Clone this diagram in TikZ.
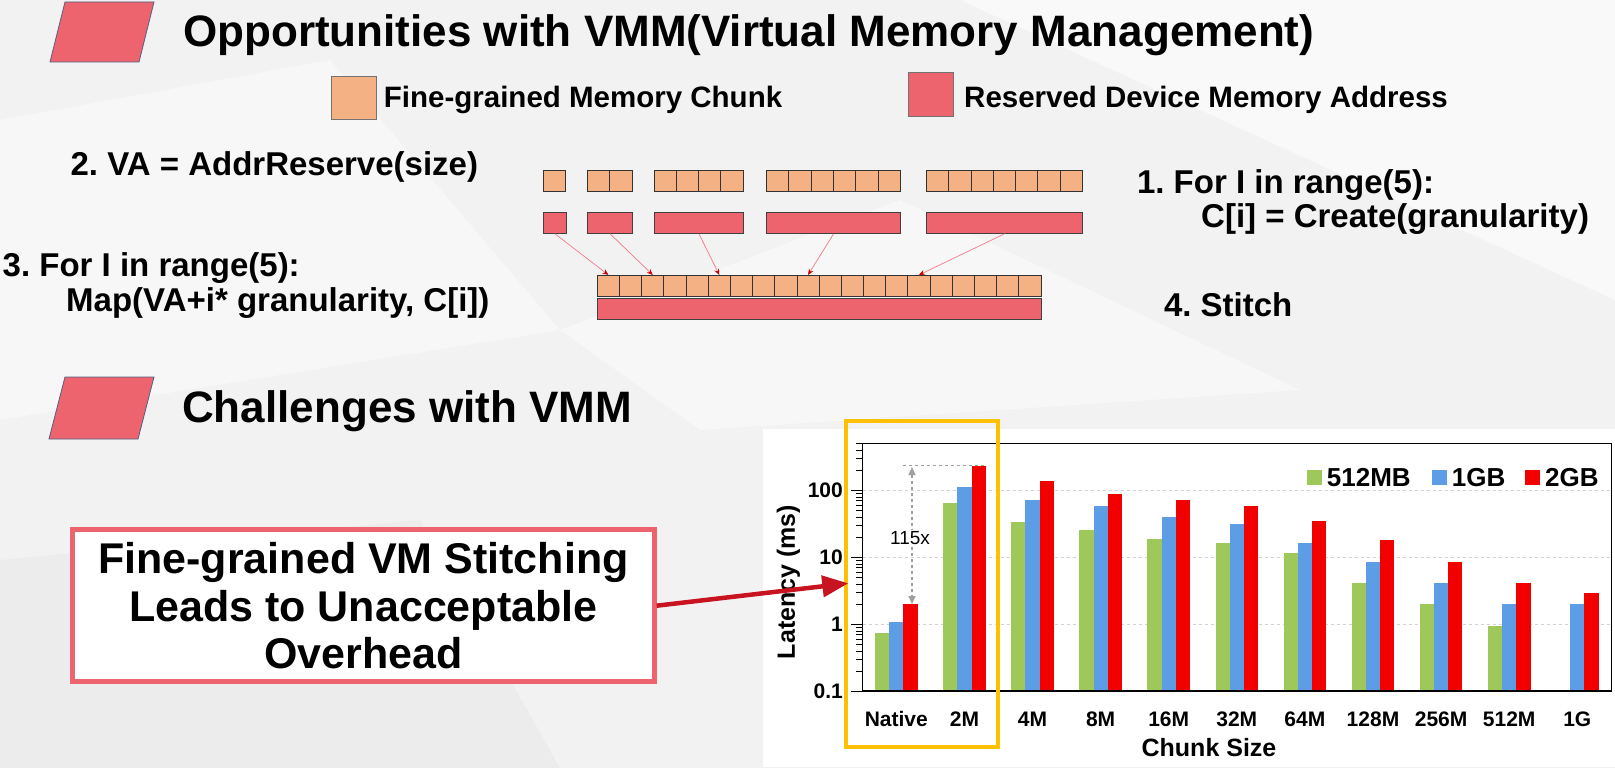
\documentclass[tikz,border=0pt]{standalone}
\usepackage{fontspec}
\setmainfont{Liberation Sans}
\usetikzlibrary{arrows.meta}
\frenchspacing

\definecolor{memred}{RGB}{238,100,110}
\definecolor{chunkorange}{RGB}{244,177,131}
\definecolor{bulletedge}{RGB}{80,95,130}
\definecolor{pointred}{RGB}{200,20,32}
\definecolor{bargreen}{RGB}{158,201,90}
\definecolor{barblue}{RGB}{92,157,230}
\definecolor{barred}{RGB}{242,0,0}
\definecolor{hilite}{RGB}{255,192,0}
\definecolor{slide}{RGB}{242,242,243}

\tikzset{
  bullet/.style={fill=memred, draw=bulletedge, line width=0.8pt},
  heading/.style={anchor=base west, inner sep=0pt, font=\fontsize{44}{48}\selectfont\bfseries},
  keytext/.style={anchor=base west, inner sep=0pt, font=\fontsize{29.5}{32}\selectfont\bfseries},
  steptext/.style={anchor=base west, inner sep=0pt, font=\fontsize{33}{34.5}\selectfont\bfseries},
  chunk/.style={draw=black!80, fill=chunkorange, line width=0.8pt, inner sep=0pt, minimum height=21pt},
  reserved/.style={draw=black!75, fill=memred, line width=0.8pt, inner sep=0pt, minimum height=21pt},
  link/.style={draw=memred!85, line width=0.7pt, -{Stealth[length=6pt,width=5pt,color=red!80!black]}},
  gridline/.style={draw=gray!35, dashed, line width=0.7pt},
  axisnum/.style={inner sep=0pt, font=\fontsize{21}{21}\selectfont\bfseries},
  axistitle/.style={inner sep=0pt, font=\fontsize{25}{25}\selectfont\bfseries},
  legendtext/.style={anchor=west, inner sep=0pt, font=\fontsize{26}{26}\selectfont\bfseries},
  gapline/.style={draw=gray!75, dashed, line width=1.1pt},
  callout/.style={draw=memred, fill=white, line width=4.5pt, minimum width=582pt, minimum height=152pt,
    align=center, font=\fontsize{43}{47.5}\selectfont\bfseries},
  pointer/.style={draw=pointred, line width=4.5pt, -{Triangle[length=26pt,width=21pt]}}
}

\begin{document}
\begin{tikzpicture}[x=1pt, y=-1pt]
  \useasboundingbox (0,0) rectangle (1615,768);

  % slide background
  \fill[slide] (0,0) rectangle (1615,768);
  \fill[white, opacity=0.55] (960,0) -- (1615,0) -- (1615,300) -- cycle;
  \fill[white, opacity=0.45] (0,120) -- (330,60) -- (560,330) -- (0,420) -- cycle;
  \fill[white, opacity=0.4] (560,330) -- (900,200) -- (1300,390) -- (700,430) -- cycle;
  \fill[black, opacity=0.025] (0,560) -- (420,520) -- (560,768) -- (0,768) -- cycle;

  % headings
  \draw[bullet] (65,2) -- (154,2) -- (139,62) -- (50,62) -- cycle;
  \node[heading] (title) at (183,46.5) {Opportunities with VMM(Virtual Memory Management)};
  \draw[bullet] (65,377) -- (154,377) -- (138,439) -- (49,439) -- cycle;
  \node[heading] (challenge) at (182,422.7) {Challenges with VMM};

  % legend
  \node[chunk, draw=black!55, minimum width=45.5pt, minimum height=43.3pt] (keyA) at (353.7,97.7) {};
  \node[keytext] (keyAtext) at (383.7,107.3) {Fine-grained Memory Chunk};
  \node[reserved, draw=black!55, minimum width=45.8pt, minimum height=44pt] (keyB) at (930.9,94.7) {};
  \node[keytext] (keyBtext) at (964,107.3) {Reserved Device Memory Address};

  % steps
  \node[steptext] (step1) at (1136.8,193.3) {1. For I in range(5):};
  \node[steptext] (step1b) at (1201,227.7) {C[i] = Create(granularity)};
  \node[steptext] (step2) at (70.4,175) {2. VA = AddrReserve(size)};
  \node[steptext] (step3) at (2.5,276.7) {3. For I in range(5):};
  \node[steptext] (step3b) at (66,311) {Map(VA+i* granularity, C[i])};
  \node[steptext] (step4) at (1163.8,316.7) {4. Stitch};

  % memory chunks and reserved ranges
  \def\cellw{22.3}
  \foreach \n/\x [count=\k] in {1/543.3, 2/587.3, 4/653.9, 6/766.4, 7/926.3}{
    \foreach \c in {1,...,\n}
      \node[chunk, minimum width=\cellw pt] (c\k-\c) at ({\x+(\c-0.5)*\cellw},181.2) {};
    \pgfmathsetmacro\w{\n*\cellw}
    \node[reserved, minimum width=\w pt, anchor=west] (r\k) at (\x,222.8) {};
  }

  % stitched range
  \foreach \i in {0,...,19}
    \node[chunk, minimum width=22.18pt, minimum height=20.7pt] (s\i) at ({597.3+(\i+0.5)*22.18},285.7) {};
  \node[reserved, minimum width=443.6pt, minimum height=20.7pt, anchor=west] (stitched) at (597.3,308.7) {};
  \foreach \k/\s in {1/0, 2/2, 3/5, 4/9, 5/14}
    \draw[link] (r\k.south) -- (s\s.north);

  % latency chart
  \fill[white] (763,429) rectangle (1615,767);
  \foreach \v in {1,10,100}
    \draw[gridline] (862.7,{624.5-67*log10(\v)}) -- (1611.7,{624.5-67*log10(\v)});
  \foreach \lab/\g/\b/\r [count=\i from 0] in {Native/0.75/1.1/2, 2M/66/111/230, 4M/34/72/140,
      8M/26/58/90, 16M/19/40/72, 32M/16.6/32/58, 64M/11.6/16.6/35, 128M/4.1/8.6/18,
      256M/2/4.1/8.6, 512M/0.95/2/4.1, 1G/0.1/2/3}{
    \pgfmathsetmacro\bx{875+68.1*\i}
    \fill[bargreen] (\bx,691) rectangle ({\bx+14.2},{624.5-67*log10(\g)});
    \fill[barblue] ({\bx+14.2},691) rectangle ({\bx+28.4},{624.5-67*log10(\b)});
    \fill[barred] ({\bx+28.4},691) rectangle ({\bx+42.6},{624.5-67*log10(\r)});
    \node[axisnum] (x\i) at ({\bx+21.3},719.3) {\lab};
  }
  \draw[line width=1.2pt] (862.7,443.3) rectangle (1611.7,691);
  \foreach \d in {-1,0,1,2}
    \foreach \m in {1,...,9}{
      \pgfmathsetmacro\ty{624.5-67*(\d+log10(\m))}
      \ifdim\ty pt>443pt \draw[line width=0.8pt] ({\m==1 ? 851 : 856},\ty) -- (862.7,\ty); \fi
    }
  \foreach \v [count=\j] in {0.1,1,10,100}
    \node[axisnum, anchor=east] (yt\j) at (843,{624.5-67*log10(\v)}) {\v};
  \node[axistitle, rotate=90] (ylabel) at (788.3,582) {Latency (ms)};
  \node[axistitle] (xlabel) at (1209,748) {Chunk Size};

  % chart legend
  \node[fill=bargreen, minimum size=15pt, inner sep=0pt] (kg) at (1314.2,477.5) {};
  \node[legendtext] (kgtext) at (1326.7,478) {512MB};
  \node[fill=barblue, minimum size=15pt, inner sep=0pt] (kb) at (1439.5,477.5) {};
  \node[legendtext] (kbtext) at (1451.7,478) {1GB};
  \node[fill=barred, minimum size=15pt, inner sep=0pt] (kr) at (1532.5,477.5) {};
  \node[legendtext] (krtext) at (1545,478) {2GB};

  % 115x gap
  \draw[gapline] (903,465.5) -- (986.7,465.5);
  \coordinate (gaptop) at (912,467);
  \coordinate (gapbot) at (912,604);
  \draw[gapline, {Triangle[length=8pt,width=7pt]}-{Triangle[length=8pt,width=7pt]}] (gaptop) -- (gapbot);
  \node[fill=white, inner sep=1.5pt, font=\fontsize{19}{19}\selectfont] (ratio) at (910,538) {115x};

  % highlight
  \draw[hilite, line width=4pt] (846,420.7) rectangle (998.3,746.7);

  % callout
  \node[callout] (claim) at (363.4,605.7) {Fine-grained VM Stitching\\Leads to Unacceptable\\Overhead};
  \coordinate (hit) at (848.3,583.3);
  \draw[pointer] (claim.east) -- (hit);
\end{tikzpicture}
\end{document}
